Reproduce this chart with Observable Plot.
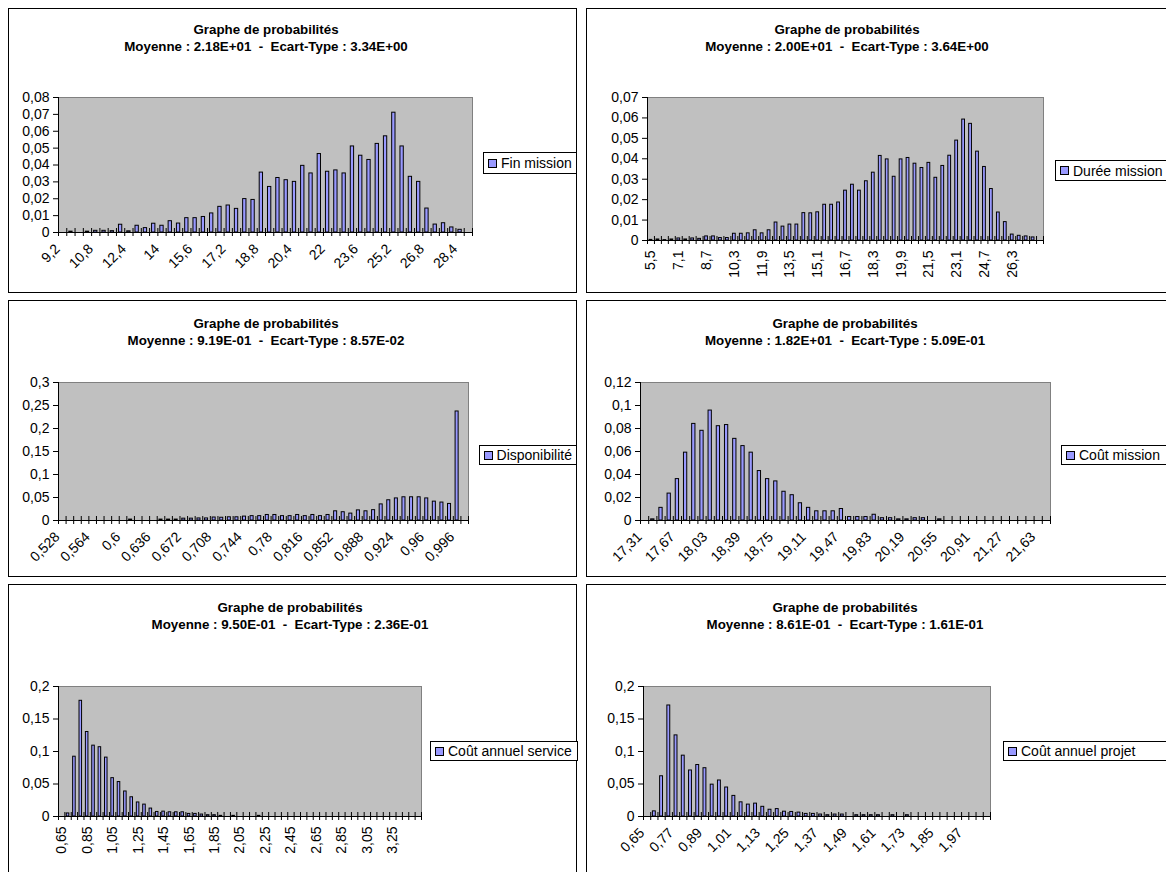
<!DOCTYPE html>
<html><head><meta charset="utf-8">
<script src="https://cdn.jsdelivr.net/npm/d3@7"></script>
<script src="https://cdn.jsdelivr.net/npm/@observablehq/plot@0.6"></script>
<style>
body{margin:0;width:1166px;height:872px;overflow:hidden;background:#fff;font-family:"Liberation Sans",Arial,sans-serif;position:relative}
.panel{position:absolute;border:1px solid #000;box-sizing:border-box;background:#fff}
.title{position:absolute;font-weight:bold;font-size:13.33px;text-align:center;white-space:pre;transform:translateX(-50%);line-height:17px;color:#000}
.legend{position:absolute;border:1px solid #000;background:#fff;font-size:14px;white-space:nowrap;padding:0 4px;box-sizing:border-box;display:flex;align-items:center;color:#000}
.sw{display:inline-block;width:7px;height:7px;background:#9999FF;border:1px solid #000;margin-right:4px}
.chart{position:absolute}
</style></head><body>
<script>
// ---------- DATA ----------
const titleLine = "Graphe de probabilités";

// 1. Fin mission
const finMissionName = "Fin mission";
const finMissionStats = "Moyenne : 2.18E+01  -  Ecart-Type : 3.34E+00";
const finMissionCats = [9.2,9.6,10,10.4,10.8,11.2,11.6,12,12.4,12.8,13.2,13.6,14,14.4,14.8,15.2,15.6,16,16.4,16.8,17.2,17.6,18,18.4,18.8,19.2,19.6,20,20.4,20.8,21.2,21.6,22,22.4,22.8,23.2,23.6,24,24.4,24.8,25.2,25.6,26,26.4,26.8,27.2,27.6,28,28.4,28.8];
const finMissionVals = [0,0.0005,0,0.0005,0.001,0.001,0.0008,0.0046,0.0007,0.004,0.0026,0.0052,0.004,0.0067,0.0053,0.0085,0.0085,0.0092,0.0113,0.0152,0.016,0.014,0.0198,0.0193,0.0355,0.027,0.0323,0.031,0.030,0.0395,0.035,0.0465,0.036,0.0368,0.035,0.051,0.0455,0.043,0.0525,0.057,0.071,0.051,0.033,0.030,0.0142,0.0047,0.0055,0.003,0.0016,0];
const finMissionXTicks = [9.2,10.8,12.4,14,15.6,17.2,18.8,20.4,22,23.6,25.2,26.8,28.4];
const finMissionYTicks = [0,0.01,0.02,0.03,0.04,0.05,0.06,0.07,0.08];

// 2. Durée mission
const dureeMissionName = "Durée mission";
const dureeMissionStats = "Moyenne : 2.00E+01  -  Ecart-Type : 3.64E+00";
const dureeMissionCats = [5.5,5.9,6.3,6.7,7.1,7.5,7.9,8.3,8.7,9.1,9.5,9.9,10.3,10.7,11.1,11.5,11.9,12.3,12.7,13.1,13.5,13.9,14.3,14.7,15.1,15.5,15.9,16.3,16.7,17.1,17.5,17.9,18.3,18.7,19.1,19.5,19.9,20.3,20.7,21.1,21.5,21.9,22.3,22.7,23.1,23.5,23.9,24.3,24.7,25.1,25.5,25.9,26.3,26.7,27.1,27.5,27.9];
const dureeMissionVals = [0.0003,0.0005,0.0002,0.0005,0.001,0.0005,0.001,0.0008,0.002,0.002,0.0012,0.0012,0.0033,0.0033,0.0035,0.005,0.0035,0.005,0.0088,0.0068,0.0078,0.0078,0.0134,0.0133,0.0138,0.0175,0.0175,0.0186,0.0244,0.0273,0.0244,0.029,0.0332,0.0414,0.0397,0.0312,0.0397,0.0404,0.0376,0.0355,0.038,0.0307,0.0365,0.0415,0.0489,0.0592,0.0571,0.0435,0.036,0.0252,0.0137,0.009,0.0029,0.0023,0.002,0.0015,0];
const dureeMissionXTicks = [5.5,7.1,8.7,10.3,11.9,13.5,15.1,16.7,18.3,19.9,21.5,23.1,24.7,26.3];
const dureeMissionYTicks = [0,0.01,0.02,0.03,0.04,0.05,0.06,0.07];

// 3. Disponibilité
const dispoName = "Disponibilité";
const dispoStats = "Moyenne : 9.19E-01  -  Ecart-Type : 8.57E-02";
const dispoCats = [0.528,0.537,0.546,0.555,0.564,0.573,0.582,0.591,0.6,0.609,0.618,0.627,0.636,0.645,0.654,0.663,0.672,0.681,0.69,0.699,0.708,0.717,0.726,0.735,0.744,0.753,0.762,0.771,0.78,0.789,0.798,0.807,0.816,0.825,0.834,0.843,0.852,0.861,0.87,0.879,0.888,0.897,0.906,0.915,0.924,0.933,0.942,0.951,0.96,0.969,0.978,0.987,0.996,1.005];
const dispoVals = [0,0,0,0,0,0,0,0,0,0.002,0,0,0,0.002,0.002,0.002,0.004,0.004,0.0045,0.0045,0.0065,0.006,0.007,0.007,0.0085,0.0095,0.0095,0.012,0.012,0.0095,0.0095,0.012,0.0095,0.012,0.0095,0.012,0.020,0.018,0.015,0.022,0.020,0.0225,0.035,0.044,0.048,0.0505,0.0505,0.0505,0.048,0.041,0.039,0.036,0.237,0];
const dispoXTicks = [0.528,0.564,0.6,0.636,0.672,0.708,0.744,0.78,0.816,0.852,0.888,0.924,0.96,0.996];
const dispoYTicks = [0,0.05,0.1,0.15,0.2,0.25,0.3];

// 4. Coût mission
const coutMissionName = "Coût mission";
const coutMissionStats = "Moyenne : 1.82E+01  -  Ecart-Type : 5.09E-01";
const coutMissionCats = [17.31,17.4,17.49,17.58,17.67,17.76,17.85,17.94,18.03,18.12,18.21,18.3,18.39,18.48,18.57,18.66,18.75,18.84,18.93,19.02,19.11,19.2,19.29,19.38,19.47,19.56,19.65,19.74,19.83,19.92,20.01,20.1,20.19,20.28,20.37,20.46,20.55,20.64,20.73,20.82,20.91,21,21.09,21.18,21.27,21.36,21.45,21.54,21.63,21.72];
const coutMissionVals = [0,0.001,0.011,0.0234,0.036,0.059,0.084,0.078,0.0956,0.082,0.083,0.071,0.0647,0.059,0.043,0.036,0.034,0.025,0.022,0.015,0.011,0.008,0.008,0.008,0.010,0.003,0.003,0.003,0.005,0.002,0.002,0.001,0.001,0.002,0.002,0,0.001,0,0,0,0,0,0,0,0,0,0,0,0,0];
const coutMissionXTicks = [17.31,17.67,18.03,18.39,18.75,19.11,19.47,19.83,20.19,20.55,20.91,21.27,21.63];
const coutMissionYTicks = [0,0.02,0.04,0.06,0.08,0.1,0.12];

// 5. Coût annuel service
const coutServiceName = "Coût annuel service";
const coutServiceStats = "Moyenne : 9.50E-01  -  Ecart-Type : 2.36E-01";
const coutServiceCats = [0.65,0.7,0.75,0.8,0.85,0.9,0.95,1,1.05,1.1,1.15,1.2,1.25,1.3,1.35,1.4,1.45,1.5,1.55,1.6,1.65,1.7,1.75,1.8,1.85,1.9,1.95,2,2.05,2.1,2.15,2.2,2.25,2.3,2.35,2.4,2.45,2.5,2.55,2.6,2.65,2.7,2.75,2.8,2.85,2.9,2.95,3,3.05,3.1,3.15,3.2,3.25,3.3,3.35,3.4,3.45];
const coutServiceVals = [0,0.0047,0.092,0.178,0.130,0.109,0.1066,0.0906,0.059,0.053,0.0385,0.0296,0.0216,0.0183,0.0122,0.007,0.0075,0.0065,0.0065,0.0065,0.004,0.004,0.003,0.002,0.002,0.001,0,0.001,0,0,0,0.001,0,0,0,0,0,0,0,0,0,0,0,0,0,0,0,0,0,0,0,0,0,0,0,0,0];
const coutServiceXTicks = [0.65,0.85,1.05,1.25,1.45,1.65,1.85,2.05,2.25,2.45,2.65,2.85,3.05,3.25];
const coutServiceYTicks = [0,0.05,0.1,0.15,0.2];

// 6. Coût annuel projet
const coutProjetName = "Coût annuel projet";
const coutProjetStats = "Moyenne : 8.61E-01  -  Ecart-Type : 1.61E-01";
const coutProjetCats = [0.65,0.68,0.71,0.74,0.77,0.8,0.83,0.86,0.89,0.92,0.95,0.98,1.01,1.04,1.07,1.1,1.13,1.16,1.19,1.22,1.25,1.28,1.31,1.34,1.37,1.4,1.43,1.46,1.49,1.52,1.55,1.58,1.61,1.64,1.67,1.7,1.73,1.76,1.79,1.82,1.85,1.88,1.91,1.94,1.97,2,2.03,2.06];
const coutProjetVals = [0,0.0079,0.0619,0.1708,0.1248,0.0936,0.0708,0.0792,0.0743,0.049,0.0554,0.0446,0.0317,0.0218,0.0183,0.0198,0.0149,0.0104,0.0114,0.0074,0.007,0.006,0.004,0.004,0.003,0.002,0.003,0.003,0,0.002,0.002,0.002,0.002,0,0.002,0,0.002,0,0,0,0,0,0,0,0,0,0,0];
const coutProjetXTicks = [0.65,0.77,0.89,1.01,1.13,1.25,1.37,1.49,1.61,1.73,1.85,1.97];
const coutProjetYTicks = [0,0.05,0.1,0.15,0.2];

// ---------- LAYOUT (page pixels) ----------
const panels = [
  {name: finMissionName, stats: finMissionStats, cats: finMissionCats, vals: finMissionVals, xTicks: finMissionXTicks, yTicks: finMissionYTicks, rot: -45,
   box: {x: 8, y: 8, w: 569, h: 285}, plot: {l: 58, r: 472, t: 97, b: 232}, titleX: 266, titleY: 21, legend: {x: 483, y: 152, w: 94, h: 22}},
  {name: dureeMissionName, stats: dureeMissionStats, cats: dureeMissionCats, vals: dureeMissionVals, xTicks: dureeMissionXTicks, yTicks: dureeMissionYTicks, rot: -90,
   box: {x: 586, y: 8, w: 600, h: 285}, plot: {l: 647, r: 1043, t: 97, b: 240}, titleX: 847, titleY: 21, legend: {x: 1055, y: 160, w: 130, h: 21}},
  {name: dispoName, stats: dispoStats, cats: dispoCats, vals: dispoVals, xTicks: dispoXTicks, yTicks: dispoYTicks, rot: -45,
   box: {x: 8, y: 300, w: 569, h: 277}, plot: {l: 58, r: 468, t: 382, b: 520}, titleX: 266, titleY: 315, legend: {x: 479, y: 445, w: 98, h: 20}},
  {name: coutMissionName, stats: coutMissionStats, cats: coutMissionCats, vals: coutMissionVals, xTicks: coutMissionXTicks, yTicks: coutMissionYTicks, rot: -45,
   box: {x: 586, y: 300, w: 600, h: 277}, plot: {l: 640, r: 1050, t: 382, b: 520}, titleX: 845, titleY: 315, legend: {x: 1061, y: 445, w: 120, h: 20}},
  {name: coutServiceName, stats: coutServiceStats, cats: coutServiceCats, vals: coutServiceVals, xTicks: coutServiceXTicks, yTicks: coutServiceYTicks, rot: -90,
   box: {x: 8, y: 584, w: 569, h: 300}, plot: {l: 58, r: 421, t: 686, b: 816}, titleX: 290, titleY: 599, legend: {x: 430, y: 741, w: 148, h: 20}},
  {name: coutProjetName, stats: coutProjetStats, cats: coutProjetCats, vals: coutProjetVals, xTicks: coutProjetXTicks, yTicks: coutProjetYTicks, rot: -45,
   box: {x: 586, y: 584, w: 600, h: 300}, plot: {l: 643, r: 990, t: 686, b: 816}, titleX: 845, titleY: 599, legend: {x: 1003, y: 741, w: 170, h: 20}}
];

const fmt = d => String(d).replace(".", ",");
const FONT = "'Liberation Sans', Arial, sans-serif";
const FS = 14;

function drawPanel(p) {
  const n = p.cats.length;
  const data = p.cats.map((c, i) => ({i, c, v: p.vals[i]})).filter(d => d.v > 0);
  const tickData = p.xTicks.map(t => ({i: p.cats.indexOf(t), t}));
  const B = p.box, P = p.plot;

  const box = document.createElement("div");
  box.className = "panel";
  Object.assign(box.style, {left: B.x + "px", top: B.y + "px", width: B.w + "px", height: B.h + "px"});
  document.body.appendChild(box);

  const t = document.createElement("div");
  t.className = "title";
  t.textContent = titleLine + "\n" + p.stats;
  Object.assign(t.style, {left: p.titleX + "px", top: p.titleY + "px"});
  document.body.appendChild(t);

  const yMax = p.yTicks[p.yTicks.length - 1];
  const labelOpts = p.rot === -90
    ? {rotate: -90, textAnchor: "end", lineAnchor: "middle", dy: 10, dx: 0}
    : {rotate: -45, textAnchor: "end", lineAnchor: "middle", dy: 14, dx: -5};

  const chart = Plot.plot({
    width: B.w, height: B.h,
    marginLeft: P.l - B.x, marginRight: B.x + B.w - P.r,
    marginTop: P.t - B.y, marginBottom: B.y + B.h - P.b,
    style: {fontFamily: FONT, fontSize: FS + "px", color: "#000", background: "transparent", overflow: "visible"},
    x: {type: "linear", domain: [0, n], axis: null},
    y: {domain: [0, yMax], axis: null},
    marks: [
      Plot.frame({fill: "#C0C0C0", stroke: "#808080"}),
      Plot.ruleX(d3.range(n + 1), {x: d => d, y1: 0, y2: 0, insetTop: -4, insetBottom: -4, stroke: "#000"}),
      Plot.rectY(data, {x1: d => d.i + 0.3, x2: d => d.i + 0.7, y: "v", fill: "#9999FF", stroke: "#000", strokeWidth: 1}),
      Plot.ruleY([0], {stroke: "#000"}),
      Plot.ruleX([0], {stroke: "#000"}),
      Plot.axisY(p.yTicks, {tickSize: 5, tickPadding: 4, tickFormat: fmt, fontSize: FS, label: null, stroke: "#000", fill: "#000"}),
      Plot.text(tickData, {x: d => d.i + 0.5, y: 0, text: d => fmt(d.t), fontSize: FS, fill: "#000", ...labelOpts})
    ]
  });
  chart.classList.add("chart");
  Object.assign(chart.style, {left: B.x + "px", top: B.y + "px"});
  document.body.appendChild(chart);

  const lg = document.createElement("div");
  lg.className = "legend";
  Object.assign(lg.style, {left: p.legend.x + "px", top: p.legend.y + "px", width: p.legend.w + "px", height: p.legend.h + "px"});
  const sw = document.createElement("span");
  sw.className = "sw";
  lg.appendChild(sw);
  lg.appendChild(document.createTextNode(p.name));
  document.body.appendChild(lg);
}

panels.forEach(drawPanel);
</script>
</body></html>
